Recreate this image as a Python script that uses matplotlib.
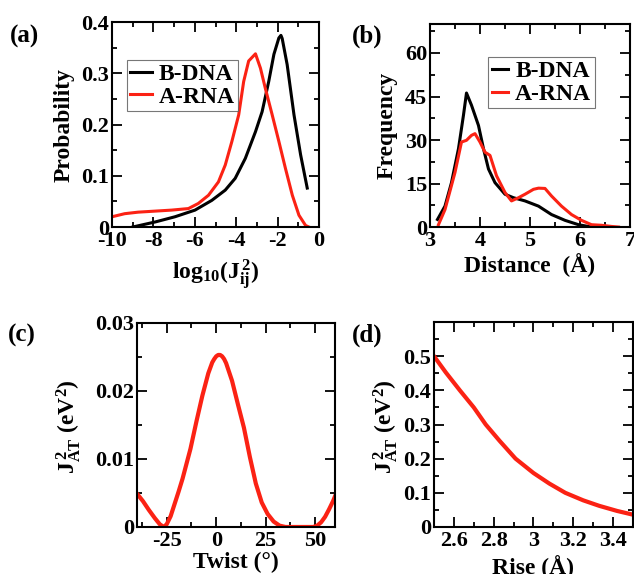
import numpy as np
import matplotlib
matplotlib.use('Agg')
import matplotlib.pyplot as plt
from matplotlib.ticker import MultipleLocator

plt.rcParams['font.family'] = 'Liberation Serif'
plt.rcParams['font.weight'] = 'bold'
plt.rcParams['axes.labelweight'] = 'bold'
plt.rcParams['axes.unicode_minus'] = False
plt.rcParams['mathtext.fontset'] = 'custom'
plt.rcParams['mathtext.rm'] = 'Liberation Serif:bold'
plt.rcParams['mathtext.it'] = 'Liberation Serif:bold'
plt.rcParams['mathtext.bf'] = 'Liberation Serif:bold'

RED = '#fb2214'

# (a) probability of log10(J^2)
logj_dna = [-9.0, -7.9, -6.96, -5.99, -5.18, -4.53, -4.05, -3.56, -3.07, -2.75,
            -2.43, -2.18, -1.94, -1.84, -1.78, -1.54, -1.21, -0.89, -0.57]
prob_dna = [0.0, 0.01, 0.02, 0.033, 0.052, 0.072, 0.095, 0.134, 0.186, 0.225,
            0.284, 0.337, 0.369, 0.374, 0.368, 0.317, 0.219, 0.141, 0.076]
logj_rna = [-10.0, -9.39, -8.74, -7.93, -7.12, -6.31, -5.83, -5.34, -4.86, -4.53,
            -4.21, -3.88, -3.64, -3.4, -3.07, -2.83, -2.59, -2.27, -1.94, -1.62,
            -1.29, -0.97, -0.65, -0.49]
prob_rna = [0.02, 0.026, 0.029, 0.031, 0.033, 0.036, 0.046, 0.062, 0.088, 0.121,
            0.167, 0.219, 0.284, 0.324, 0.338, 0.31, 0.27, 0.22, 0.167, 0.114,
            0.062, 0.023, 0.003, 0.0]

# (b) distance histogram
dist_dna = [3.15, 3.3, 3.43, 3.57, 3.67, 3.73, 3.83, 3.97, 4.07, 4.17, 4.3, 4.5,
            4.67, 4.9, 5.17, 5.43, 5.7, 5.97, 6.23, 6.5]
freq_dna = [2.6, 7.2, 15.3, 27, 38.6, 46.2, 42, 35, 27, 20, 15.3, 11.3,
            10.1, 9.0, 7.2, 4.3, 2.3, 0.8, 0, 0]
dist_rna = [3.17, 3.3, 3.5, 3.63, 3.73, 3.83, 3.9, 4.0, 4.1, 4.2, 4.33, 4.5, 4.63,
            4.77, 4.9, 5.07, 5.17, 5.3, 5.43, 5.63, 5.83, 6.03, 6.23, 6.43, 6.63, 6.77]
freq_rna = [0.8, 6, 18.8, 29.3, 29.9, 31.6, 32.2, 29.3, 25.8, 24.7, 17.7, 11.9, 9.0,
            10.1, 11.3, 13.0, 13.4, 13.3, 10.7, 7.2, 4.3, 2.3, 0.8, 0.6, 0.2, 0]

# (c) J^2 vs twist
twist = [-40, -37, -34, -31, -28.5, -26.5, -25, -23, -21, -19, -17, -15, -13, -10,
         -7, -4, -2, -1, 0, 1, 2, 3, 4, 5, 8, 11, 14, 17, 20, 23, 26, 29, 32, 35,
         40, 45, 49, 51, 53, 55, 57, 59, 60]
j2_twist = [0.0049, 0.0038, 0.0025, 0.0013, 0.0004, 0.0, 0.0004, 0.0016, 0.0034,
            0.0052, 0.0071, 0.0093, 0.0115, 0.0155, 0.0193, 0.0226, 0.0242, 0.0247,
            0.0251, 0.0253, 0.0253, 0.0251, 0.0247, 0.0241, 0.0215, 0.018, 0.0146,
            0.0103, 0.0064, 0.0036, 0.0019, 0.0008, 0.0002, 0.0, 0.0, 0.0, 0.0,
            0.0002, 0.0007, 0.0015, 0.0026, 0.0038, 0.0045]

# (d) J^2 vs rise
rise = [2.5, 2.56, 2.63, 2.7, 2.76, 2.83, 2.91, 3.0, 3.08, 3.16, 3.25, 3.33, 3.42, 3.5]
j2_rise = [0.5, 0.452, 0.4, 0.35, 0.3, 0.252, 0.2, 0.158, 0.127, 0.1, 0.078,
           0.062, 0.047, 0.036]

fig = plt.figure(figsize=(6.34, 5.74), dpi=100)
axa = fig.add_axes([0.1767, 0.6045, 0.3265, 0.3571])
axb = fig.add_axes([0.6782, 0.6045, 0.3155, 0.3537])
axc = fig.add_axes([0.2161, 0.0819, 0.3123, 0.3554])
axd = fig.add_axes([0.6845, 0.0819, 0.3139, 0.3571])


def style(ax):
    for s in ax.spines.values():
        s.set_linewidth(1.5)
    ax.tick_params(which='both', direction='in', top=True, right=True,
                   labelsize=16, width=1.3)
    ax.tick_params(which='major', length=7)
    ax.tick_params(which='minor', length=3.5)
    ax.tick_params(axis='x', pad=3)
    ax.tick_params(axis='y', pad=2)
    for t in ax.get_xticklabels() + ax.get_yticklabels():
        t.set_fontweight('bold')


def legend(ax, anchor, hl):
    leg = ax.legend(loc='upper left', bbox_to_anchor=anchor, fontsize=17,
                    frameon=True, fancybox=False, edgecolor='#555555',
                    borderpad=0.15, labelspacing=0.05, handlelength=hl,
                    handletextpad=0.3, borderaxespad=0)
    leg.get_frame().set_linewidth(0.8)
    for t in leg.get_texts():
        t.set_fontweight('bold')


# (a)
axa.plot(logj_dna, prob_dna, color='black', lw=2.2, label='B-DNA')
axa.plot(logj_rna, prob_rna, color=RED, lw=2.2, label='A-RNA')
axa.set_xlim(-10, 0)
axa.set_ylim(0, 0.4)
axa.xaxis.set_major_locator(MultipleLocator(2))
axa.xaxis.set_minor_locator(MultipleLocator(1))
axa.set_yticks([0, 0.1, 0.2, 0.3, 0.4])
axa.set_yticklabels(['0', '0.1', '0.2', '0.3', '0.4'])
axa.yaxis.set_minor_locator(MultipleLocator(0.05))
style(axa)
axa.set_ylabel('Probability', fontsize=17)
axa.yaxis.set_label_coords(-0.18, 0.5)
axa.set_xlabel(r'log$_{10}$(J$_{ij}^{\,2}$)', fontsize=17, va='top')
axa.xaxis.set_label_coords(0.5, -0.15)
legend(axa, (0.072, 0.815), 0.9)

# (b)
axb.plot(dist_dna, freq_dna, color='black', lw=2.2, label='B-DNA')
axb.plot(dist_rna, freq_rna, color=RED, lw=2.2, label='A-RNA')
axb.set_xlim(3, 7)
axb.set_ylim(0, 70)
axb.xaxis.set_major_locator(MultipleLocator(1))
axb.xaxis.set_minor_locator(MultipleLocator(0.5))
axb.yaxis.set_major_locator(MultipleLocator(15))
axb.yaxis.set_minor_locator(MultipleLocator(7.5))
style(axb)
axb.set_ylabel('Frequency', fontsize=17)
axb.yaxis.set_label_coords(-0.16, 0.5)
axb.set_xlabel('Distance  (Å)', fontsize=17, va='top')
axb.xaxis.set_label_coords(0.5, -0.128)
legend(axb, (0.29, 0.837), 0.7)

# (c)
axc.plot(twist, j2_twist, color=RED, lw=3)
axc.set_xlim(-40, 60)
axc.set_ylim(0, 0.03)
axc.xaxis.set_major_locator(MultipleLocator(25))
axc.xaxis.set_minor_locator(MultipleLocator(12.5))
axc.set_yticks([0, 0.01, 0.02, 0.03])
axc.set_yticklabels(['0', '0.01', '0.02', '0.03'])
axc.yaxis.set_minor_locator(MultipleLocator(0.005))
style(axc)
axc.set_ylabel(r'J$_{AT}^{\,2}$ (eV$^{2}$)', fontsize=17)
axc.yaxis.set_label_coords(-0.275, 0.49)
axc.set_xlabel('Twist (°)', fontsize=17, va='top')
axc.xaxis.set_label_coords(0.5, -0.12)

# (d)
axd.plot(rise, j2_rise, color=RED, lw=3)
axd.set_xlim(2.5, 3.5)
axd.set_ylim(0, 0.6)
axd.set_xticks([2.6, 2.8, 3.0, 3.2, 3.4])
axd.set_xticklabels(['2.6', '2.8', '3', '3.2', '3.4'])
axd.xaxis.set_minor_locator(MultipleLocator(0.1))
axd.set_yticks([0, 0.1, 0.2, 0.3, 0.4, 0.5])
axd.set_yticklabels(['0', '0.1', '0.2', '0.3', '0.4', '0.5'])
axd.yaxis.set_minor_locator(MultipleLocator(0.05))
style(axd)
axd.set_ylabel(r'J$_{AT}^{\,2}$ (eV$^{2}$)', fontsize=17)
axd.yaxis.set_label_coords(-0.17, 0.49)
axd.set_xlabel('Rise (Å)', fontsize=17, va='top')
axd.xaxis.set_label_coords(0.5, -0.135)

# panel letters
for x, y, s in [(0.016, 0.925, '(a)'), (0.555, 0.925, '(b)'),
                (0.013, 0.405, '(c)'), (0.555, 0.405, '(d)')]:
    fig.text(x, y, s, fontsize=18, fontweight='bold')

fig.savefig('out.png', dpi=100)
